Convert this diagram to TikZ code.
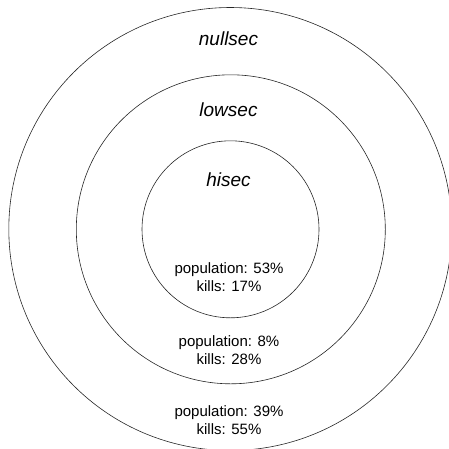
\documentclass[tikz,border=0pt]{standalone}
\usepackage{fontspec}
\setmainfont{Liberation Sans}
\begin{document}
\begin{tikzpicture}[x=1pt,y=-1pt,
  ring/.style={circle, draw=black!85, line width=0.6pt, inner sep=0pt, outer sep=0pt},
  title/.style={font=\fontsize{19}{22}\selectfont\itshape, inner sep=0pt},
  stats/.style={font=\fontsize{15}{18}\selectfont, align=center, inner sep=0pt}]
\useasboundingbox (0,0) rectangle (449,448);
\clip (0,0) rectangle (449,448);
\node[ring, minimum size=443pt] (outer) at (230.3,229) {};
\node[ring, minimum size=309pt] (middle) at (230.8,229.3) {};
\node[ring, minimum size=177pt] (inner) at (230.5,229.3) {};
\node[title] (tnull) at (228.5,39) {nullsec};
\node[title] (tlow) at (228.5,110) {lowsec};
\node[title] (thi) at (228.5,180) {hisec};
\node[stats] (shi) at (229,277) {population: 53\%\\kills: 17\%};
\node[stats] (slow) at (229,350) {population: 8\%\\kills: 28\%};
\node[stats] (snull) at (229,420) {population: 39\%\\kills: 55\%};
\end{tikzpicture}
\end{document}
